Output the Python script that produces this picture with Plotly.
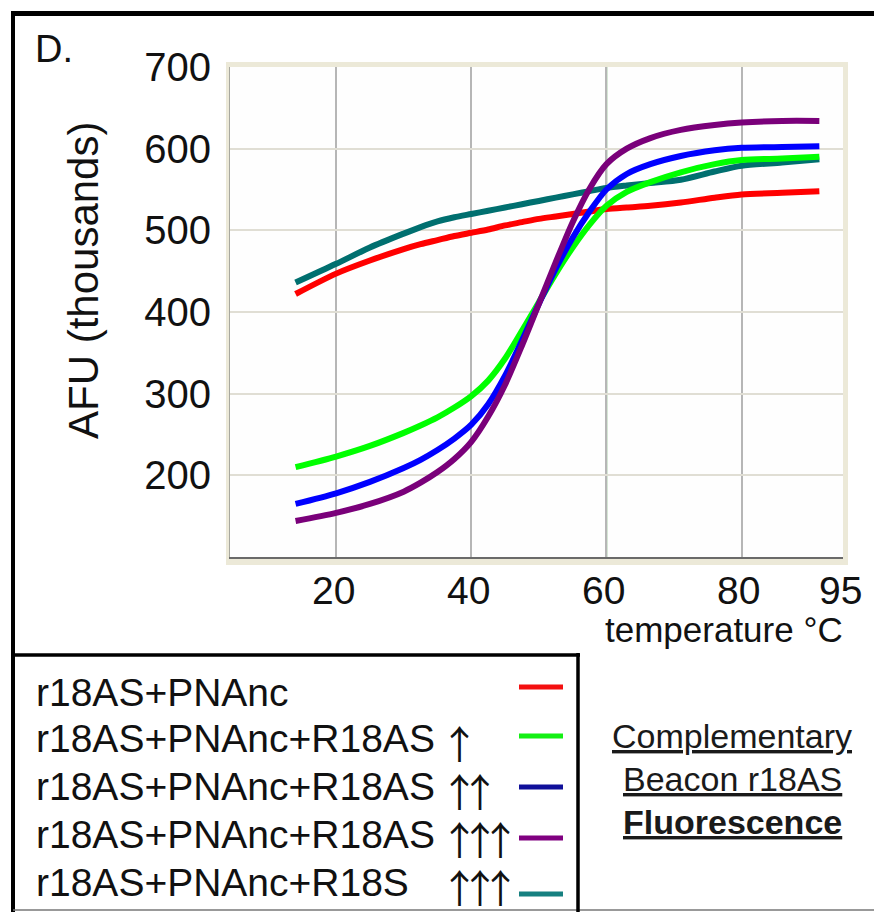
import plotly.graph_objects as go

# ---------------- data ----------------
temperature = [14, 20, 25, 30, 32.5, 35, 37.5, 40, 42.5, 45, 47.5, 50, 52.5, 55, 57.5, 60, 63, 66.5, 71, 76, 80, 86, 91.5]

s_pnanc = [422, 447, 463, 477, 483, 488, 493, 497, 501, 506, 510, 514, 517, 520, 523, 526, 528, 530, 534, 540, 544, 546, 548]
s_r18as_1 = [210, 223, 236, 252, 261, 271, 283, 297, 316, 343, 377, 412, 447, 479, 507, 530, 547, 559, 571, 581, 586, 588, 590]
s_r18as_2 = [165, 178, 192, 209, 219, 231, 245, 262, 287, 322, 365, 410, 453, 491, 523, 550, 569, 581, 591, 598, 601, 602, 603]
s_r18as_3 = [144, 154, 165, 180, 191, 204, 220, 241, 272, 311, 359, 410, 461, 510, 551, 581, 600, 613, 623, 629, 632, 634, 634]
s_r18s_3 = [436, 459, 479, 496, 504, 511, 516, 520, 524, 528, 532, 536, 540, 544, 548, 552, 555, 558, 562, 572, 579, 583, 587]

series_names = [
    "r18AS+PNAnc",
    "r18AS+PNAnc+R18AS",
    "r18AS+PNAnc+R18AS",
    "r18AS+PNAnc+R18AS",
    "r18AS+PNAnc+R18S",
]
series_arrows = ["", "↑", "↑↑", "↑↑↑", "↑↑↑"]
series_values = [s_pnanc, s_r18as_1, s_r18as_2, s_r18as_3, s_r18s_3]
line_colors = ["#ff0000", "#00ff00", "#0000ff", "#7a007a", "#006f6f"]
swatch_colors = ["#f41010", "#14f014", "#10109a", "#800080", "#168080"]
draw_order = [0, 4, 1, 2, 3]

x_ticks = [20, 40, 60, 80, 95]
y_ticks = [200, 300, 400, 500, 600, 700]
x_range = [4.3, 95]
y_range = [100, 700]
marker_temp = 60

FONT = "Liberation Sans, Arial, sans-serif"
ARROW_FONT = "Noto Sans CJK JP"
W, H = 874, 912
L, R, T, B = 230, 843, 67, 557


def fx(px):
    return (px - L) / (R - L)


def fy(py):
    return (B - py) / (B - T)


fig = go.Figure()
for i in draw_order:
    fig.add_trace(go.Scatter(
        x=temperature, y=series_values[i], mode="lines",
        line=dict(color=line_colors[i], width=6, shape="spline", smoothing=0.8),
        showlegend=False, hoverinfo="skip"))

shapes = []
shapes.append(dict(type="rect", xref="paper", yref="paper", x0=fx(226), x1=fx(848), y0=fy(565), y1=fy(62),
                   fillcolor="#ece9d8", line=dict(width=0), layer="below"))
shapes.append(dict(type="rect", xref="paper", yref="paper", x0=0, x1=1, y0=0, y1=1,
                   fillcolor="#fefefe", line=dict(width=0), layer="below"))
shapes.append(dict(type="line", xref="x", yref="paper", x0=marker_temp, x1=marker_temp, y0=0, y1=1,
                   line=dict(color="#5c9e5c", width=1.6), layer="between"))
shapes.append(dict(type="line", xref="paper", yref="paper", x0=fx(11), x1=fx(880), y0=fy(13.5), y1=fy(13.5),
                   line=dict(color="#000000", width=5)))
shapes.append(dict(type="line", xref="paper", yref="paper", x0=fx(13), x1=fx(13), y0=fy(11), y1=fy(915),
                   line=dict(color="#000000", width=4)))
shapes.append(dict(type="line", xref="paper", yref="paper", x0=fx(13), x1=fx(880), y0=fy(910), y1=fy(910),
                   line=dict(color="#777777", width=1.5)))
shapes.append(dict(type="line", xref="paper", yref="paper", x0=fx(13), x1=fx(580), y0=fy(655), y1=fy(655),
                   line=dict(color="#000000", width=3.5)))
shapes.append(dict(type="line", xref="paper", yref="paper", x0=fx(578), x1=fx(578), y0=fy(653), y1=fy(915),
                   line=dict(color="#000000", width=3.5)))

annotations = []
annotations.append(dict(text="D.", x=fx(33), y=fy(49), xref="paper", yref="paper", xanchor="left",
                        yanchor="middle", showarrow=False, font=dict(family=FONT, size=38, color="#111111")))
annotations.append(dict(text="AFU (thousands)", x=fx(83), y=fy(281), xref="paper", yref="paper",
                        textangle=-90, xanchor="center", yanchor="middle", showarrow=False,
                        font=dict(family=FONT, size=42, color="#111111")))
annotations.append(dict(text="temperature °C", x=fx(845), y=fy(629), xref="paper", yref="paper",
                        xanchor="right", yanchor="middle", showarrow=False,
                        font=dict(family=FONT, size=35, color="#111111")))
for v in x_ticks:
    annotations.append(dict(text=str(v), x=v, y=fy(590), xref="x", yref="paper", xanchor="center",
                            yanchor="middle", xshift=-3, showarrow=False,
                            font=dict(family=FONT, size=39, color="#111111")))

row_y = [692, 738, 786, 834, 882]
sw_y = [687, 736, 787, 838, 894]
for i in range(5):
    annotations.append(dict(text=series_names[i], x=fx(34), y=fy(row_y[i]), xref="paper", yref="paper",
                            xanchor="left", yanchor="middle", showarrow=False,
                            font=dict(family=FONT, size=39, color="#111111")))
    if series_arrows[i]:
        annotations.append(dict(text='<span style="letter-spacing:-18.5px">' + series_arrows[i] + '</span>',
                                x=fx(438), y=fy(row_y[i] + 4), xref="paper",
                                yref="paper", xanchor="left", yanchor="middle", showarrow=False,
                                font=dict(family=ARROW_FONT, size=39, color="#111111")))
    shapes.append(dict(type="line", xref="paper", yref="paper", x0=fx(519), x1=fx(563),
                       y0=fy(sw_y[i]), y1=fy(sw_y[i]), line=dict(color=swatch_colors[i], width=5)))

side_lines = ["<u>Complementary</u>", "<u>Beacon r18AS</u>", "<u><b>Fluorescence</b></u>"]
side_y = [736, 779, 822]
for t, yy in zip(side_lines, side_y):
    annotations.append(dict(text=t, x=fx(732), y=fy(yy), xref="paper", yref="paper", xanchor="center",
                            yanchor="middle", showarrow=False,
                            font=dict(family=FONT, size=34, color="#1a1a1a")))

fig.update_layout(
    width=W, height=H,
    margin=dict(l=L, r=W - R, t=T, b=H - B, pad=0),
    paper_bgcolor="#ffffff", plot_bgcolor="rgba(0,0,0,0)",
    shapes=shapes, annotations=annotations,
    font=dict(family=FONT, color="#111111"),
    showlegend=False,
)
fig.update_xaxes(range=x_range, tickvals=x_ticks, showticklabels=False,
                 showgrid=True, gridcolor="#b6b6b6", gridwidth=1.5, zeroline=False,
                 showline=True, linecolor="#6a6a6a", linewidth=2, ticks="")
fig.update_yaxes(range=y_range, tickvals=y_ticks, showgrid=True, gridcolor="#e0ded4", gridwidth=2,
                 zeroline=False, showline=True, linecolor="#a8a8a0", linewidth=1,
                 tickfont=dict(family=FONT, size=40, color="#111111"), ticks="", ticklabelstandoff=10)

fig.write_html("out.html")
